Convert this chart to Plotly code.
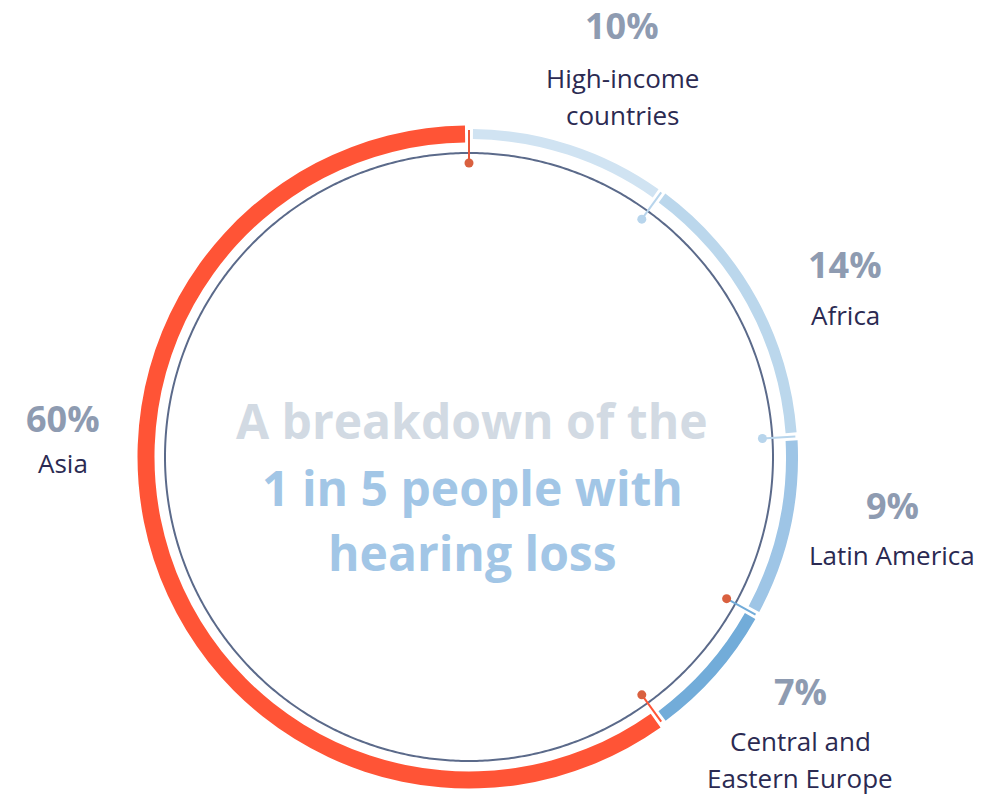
import numpy as np
import plotly.graph_objects as go

# ---- data ----
regions = ["High-income countries", "Africa", "Latin America", "Central and Eastern Europe", "Asia"]
shares = [10, 14, 9, 7, 60]
pct_labels = ["10%", "14%", "9%", "7%", "60%"]
name_labels = [["High-income", "countries"], ["Africa"], ["Latin America"],
               ["Central and", "Eastern Europe"], ["Asia"]]
seg_colors = ["#D0E3F2", "#BBD7EC", "#9EC5E6", "#72ACD9", "#FF5436"]
seg_thick = [10, 11, 12, 12, 17]
# marker (line, dot) colors at each segment start boundary
tick_line_colors = ["#E8563A", "#B8D5EC", "#B8D5EC", "#72ACD9", "#FF5436"]
tick_dot_colors = ["#D9603F", "#B8D5EC", "#B8D5EC", "#D9603F", "#D9603F"]
title_lines = ["A breakdown of the", "1 in 5 people with", "hearing loss"]

# ---- geometry/style ----
W, H = 1000, 798
CX, CY = 469, 457
RMAX = 340
R_RING = 323
R_INNER = 304
GAP = 1.4

fig = go.Figure()

cum = np.concatenate([[0], np.cumsum(shares)]) * 3.6
for i, reg in enumerate(regions):
    s, e = cum[i], cum[i + 1]
    fig.add_trace(go.Barpolar(
        r=[seg_thick[i]], base=[R_RING - seg_thick[i] / 2],
        theta=[(s + e) / 2], width=[(e - s) - GAP],
        marker=dict(color=seg_colors[i], line=dict(width=0)),
        name=reg, hoverinfo="name", showlegend=False,
    ))

# inner thin circle
th = np.linspace(0, 360, 721)
fig.add_trace(go.Scatterpolar(r=np.full_like(th, R_INNER), theta=th, mode="lines",
                              line=dict(color="#5B6A8A", width=2), hoverinfo="skip",
                              showlegend=False))

# boundary ticks
for i in range(len(regions)):
    b = cum[i]
    fig.add_trace(go.Scatterpolar(r=[R_RING + 4, 294], theta=[b, b], mode="lines",
                                  line=dict(color=tick_line_colors[i], width=2),
                                  hoverinfo="skip", showlegend=False))
    fig.add_trace(go.Scatterpolar(r=[294], theta=[b], mode="markers",
                                  marker=dict(color=tick_dot_colors[i], size=9),
                                  hoverinfo="skip", showlegend=False))

def px(x):
    return x / W

def py(y):
    return 1 - y / H

FONT = "Open Sans"
# label positions (pixel centers): x, pct y, first label line y
pos = [(622, 26, 78), (845, 265, 315), (892, 505, 555), (800, 691, 741), (63, 418, 463)]
LINE_STEP = 37
ann = []
for i, (x, yp, yl) in enumerate(pos):
    ann.append(dict(x=px(x), y=py(yp), xref="paper", yref="paper", text=pct_labels[i],
                    showarrow=False, xanchor="center", yanchor="middle",
                    font=dict(family=FONT, size=36, color="#8E9BB1", weight="bold")))
    for k, line in enumerate(name_labels[i]):
        ann.append(dict(x=px(x), y=py(yl + k * LINE_STEP), xref="paper", yref="paper",
                        text=line, showarrow=False, xanchor="center", yanchor="middle",
                        font=dict(family=FONT, size=26, color="#2B2A52")))

title_colors = ["#D2DAE3", "#A2C6E6", "#A2C6E6"]
title_y = [420, 487, 552]
for t, c, y in zip(title_lines, title_colors, title_y):
    ann.append(dict(x=px(472), y=py(y), xref="paper", yref="paper", text=t, showarrow=False,
                    xanchor="center", yanchor="middle",
                    font=dict(family=FONT, size=48, color=c, weight="bold")))

fig.update_layout(
    width=W, height=H, margin=dict(l=0, r=0, t=0, b=0),
    paper_bgcolor="white", plot_bgcolor="white",
    polar=dict(
        domain=dict(x=[(CX - RMAX) / W, (CX + RMAX) / W],
                    y=[(H - CY - RMAX) / H, (H - CY + RMAX) / H]),
        bgcolor="rgba(0,0,0,0)",
        radialaxis=dict(range=[0, RMAX], visible=False),
        angularaxis=dict(rotation=90, direction="clockwise", visible=False),
        bargap=0,
    ),
    annotations=ann,
)

fig.write_html("out.html", config={"displayModeBar": False},
               post_script="document.body.style.margin='0';")
